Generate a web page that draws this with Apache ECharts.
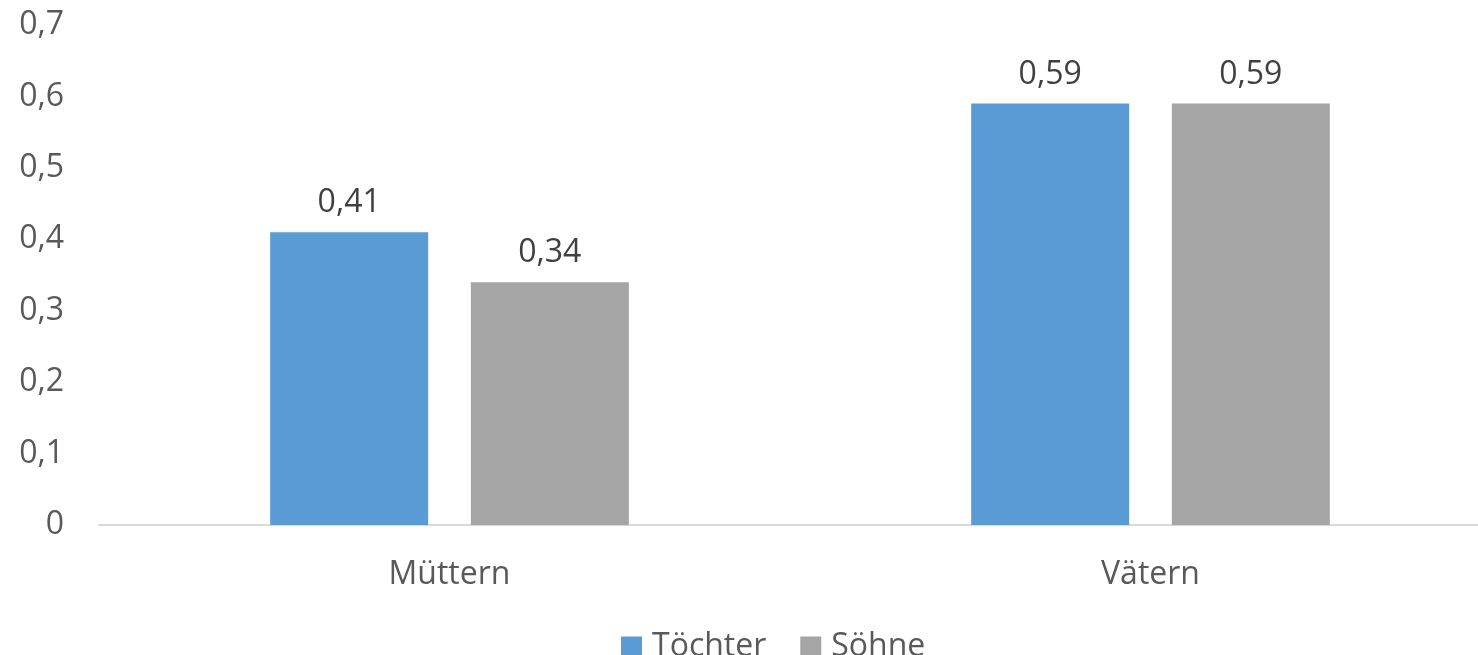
<!DOCTYPE html>
<html>
<head>
<meta charset="utf-8">
<script src="https://cdn.jsdelivr.net/npm/echarts@6/dist/echarts.min.js"></script>
<style>
  html, body { margin: 0; padding: 0; background: #fff; overflow: hidden; width: 1478px; height: 655px; }
  /* etwas breiter als das Fenster: die Achse läuft im Original über den rechten Rand hinaus */
  #chart { width: 1501px; height: 655px; }
</style>
</head>
<body>
<div id="chart"></div>
<script>
  // Daten
  var categories = ['Müttern', 'Vätern'];
  var toechter = [0.41, 0.59];
  var soehne = [0.34, 0.59];
  var seriesNames = ['Töchter', 'Söhne'];

  var font = '"Open Sans", "Noto Sans", sans-serif';
  function komma(v) { return String(v).replace('.', ','); }

  var chart = echarts.init(document.getElementById('chart'));
  chart.setOption({
    animation: false,
    textStyle: { fontFamily: font },
    grid: { left: 99, right: 0, top: 25, bottom: 130, containLabel: false },
    legend: {
      data: seriesNames,
      left: 616,
      top: 626,
      itemWidth: 21,
      itemHeight: 21,
      itemGap: 34,
      icon: 'rect',
      textStyle: { fontSize: 32, color: '#595959', fontFamily: font, padding: [0, 0, 0, 5] }
    },
    xAxis: {
      type: 'category',
      data: categories,
      axisLine: { lineStyle: { color: '#d9d9d9', width: 2 } },
      axisTick: { show: false },
      axisLabel: { fontSize: 32, color: '#595959', margin: 34, fontFamily: font }
    },
    yAxis: {
      type: 'value',
      min: 0,
      max: 0.7,
      interval: 0.1,
      splitLine: { show: false },
      axisLine: { show: false },
      axisTick: { show: false },
      axisLabel: {
        fontSize: 32, color: '#595959', margin: 35, fontFamily: font,
        formatter: function (v) { return komma(Math.round(v * 10) / 10); }
      }
    },
    series: [
      {
        name: seriesNames[0], type: 'bar', data: toechter,
        barWidth: 158, barGap: '27%',
        itemStyle: { color: '#5B9BD5' },
        label: { show: true, position: 'top', distance: 13, fontSize: 32, color: '#404040', fontFamily: font,
          formatter: function (p) { return komma(p.value); } }
      },
      {
        name: seriesNames[1], type: 'bar', data: soehne,
        barWidth: 158, barGap: '27%',
        itemStyle: { color: '#A5A5A5' },
        label: { show: true, position: 'top', distance: 13, fontSize: 32, color: '#404040', fontFamily: font,
          formatter: function (p) { return komma(p.value); } }
      }
    ]
  });
</script>
</body>
</html>
